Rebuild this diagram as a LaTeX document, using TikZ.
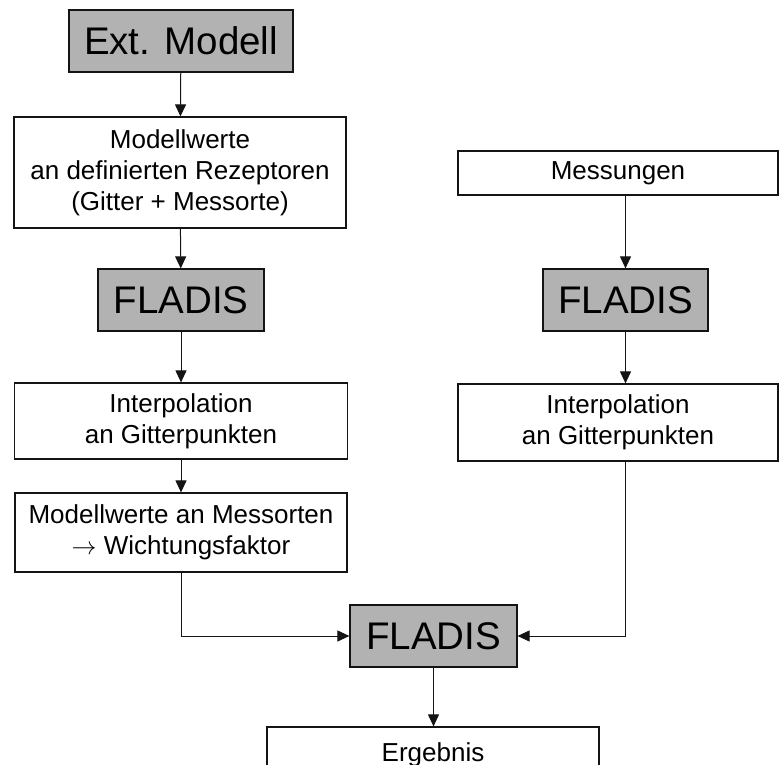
\documentclass[tikz,border=0pt]{standalone}
\usepackage{fontspec}
\setmainfont{Liberation Sans}
\usetikzlibrary{arrows.meta}
\definecolor{boxgray}{RGB}{178,178,178}
\definecolor{edge}{RGB}{20,20,20}
\begin{document}
\begin{tikzpicture}[x=1pt,y=-1pt,
  box/.style={draw=edge,line width=1.2pt,fill=white,inner sep=0pt,align=center,
    font=\fontsize{26}{31}\selectfont},
  gbox/.style={draw=edge,line width=1.2pt,fill=boxgray,inner sep=0pt,align=center,
    font=\fontsize{38.5}{45}\selectfont},
  arr/.style={draw=edge,line width=1pt,-{Triangle[length=12pt,width=11pt]}}]
\useasboundingbox (0,0) rectangle (779,765);
\clip (0,0) rectangle (779,765);
\node[gbox,minimum width=224,minimum height=62] (ext) at (181,41) {Ext. Modell};
\node[box,minimum width=332,minimum height=111] (mw1) at (180,172.5) {Modellwerte\\an definierten Rezeptoren\\(Gitter + Messorte)};
\node[gbox,minimum width=166,minimum height=62] (fl1) at (181,300) {FLADIS};
\node[box,minimum width=333,minimum height=76] (ip1) at (181,421) {Interpolation\\an Gitterpunkten};
\node[box,minimum width=332,minimum height=79] (mw2) at (181,532.5) {Modellwerte an Messorten\\$\rightarrow$ Wichtungsfaktor};
\node[box,minimum width=320,minimum height=44] (mess) at (618,173) {Messungen};
\node[gbox,minimum width=165,minimum height=62] (fl2) at (625.5,300) {FLADIS};
\node[box,minimum width=320,minimum height=77] (ip2) at (618,422.5) {Interpolation\\an Gitterpunkten};
\node[gbox,minimum width=167,minimum height=62] (fl3) at (433.5,636) {FLADIS};
\node[box,minimum width=332,minimum height=55] (erg) at (433,754.5) {Ergebnis};
\draw[arr] (ext) -- (mw1);
\draw[arr] (mw1) -- (fl1);
\draw[arr] (fl1) -- (ip1);
\draw[arr] (ip1) -- (mw2);
\draw[arr] (mess.south -| fl2.north) -- (fl2.north);
\draw[arr] (fl2) -- (fl2.south |- ip2.north);
\draw[arr] (mw2.south) |- (fl3.west);
\draw[arr] (ip2.south -| fl2.south) |- (fl3.east);
\draw[arr] (fl3) -- (fl3.south |- erg.north);
\end{tikzpicture}
\end{document}
